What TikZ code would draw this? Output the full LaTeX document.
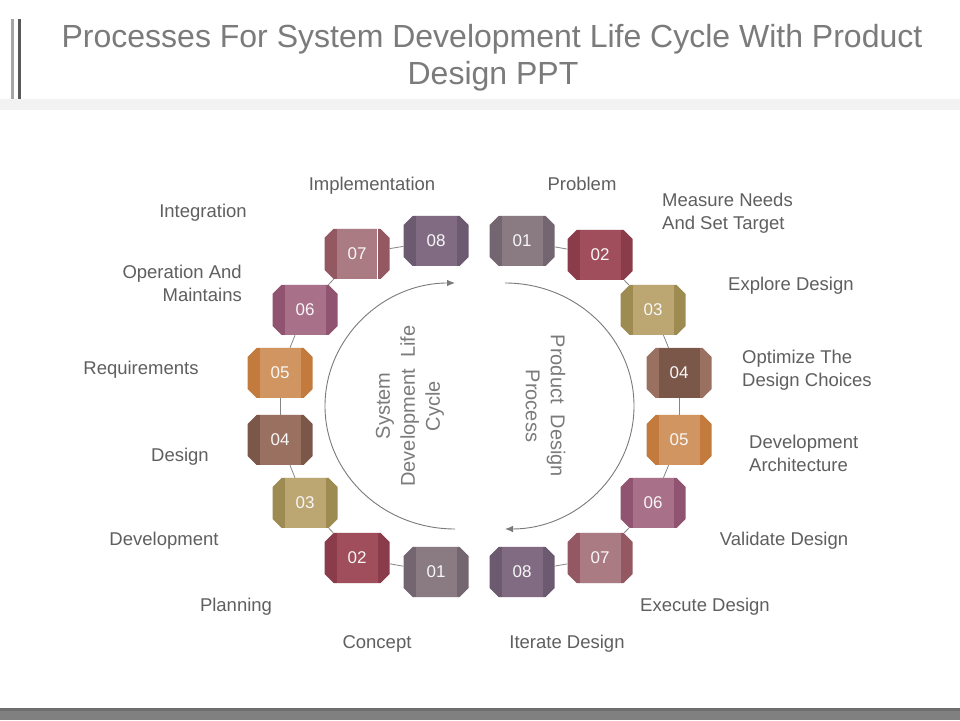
\documentclass[tikz,border=0pt]{standalone}
\usepackage{fontspec}
\setmainfont{Liberation Sans}
\usetikzlibrary{arrows.meta}
\definecolor{titlegray}{HTML}{7B7B7B}
\definecolor{labelgray}{HTML}{5F5F5F}
\definecolor{arcgray}{HTML}{7A7A7A}
\definecolor{conngray}{HTML}{858585}
\definecolor{bandgray}{HTML}{F2F2F2}
\definecolor{barlight}{HTML}{A6A6A6}
\definecolor{bardark}{HTML}{595959}
\definecolor{footdark}{HTML}{6E6E6E}
\definecolor{footgray}{HTML}{808080}
\definecolor{cAf}{HTML}{8A7B82}\definecolor{cAs}{HTML}{746670}
\definecolor{cBf}{HTML}{A04E5B}\definecolor{cBs}{HTML}{8A3C4A}
\definecolor{cCf}{HTML}{BCA671}\definecolor{cCs}{HTML}{9E8B51}
\definecolor{cDf}{HTML}{9A7061}\definecolor{cDs}{HTML}{7B5749}
\definecolor{cEf}{HTML}{D09560}\definecolor{cEs}{HTML}{C27B3C}
\definecolor{cFf}{HTML}{A9708A}\definecolor{cFs}{HTML}{905470}
\definecolor{cGf}{HTML}{AA7B83}\definecolor{cGs}{HTML}{945863}
\definecolor{cHf}{HTML}{816B82}\definecolor{cHs}{HTML}{6B5A70}
\newcommand\cubebox[6]{%
  \begin{scope}[shift={(#2,#3)}]
    \fill[#5] (-32.5,16) -- (-23.5,25) -- (23.5,25) -- (32.5,16) -- (32.5,-16) -- (23.5,-25) -- (-23.5,-25) -- (-32.5,-16) -- cycle;
    \fill[#4] (-20.5,-25) rectangle (20.5,25);
  \end{scope}
  \node[numbox] (#1) at (#2,#3) {#6};
}
\tikzset{
  numbox/.style={minimum width=65pt, minimum height=50pt, inner sep=0pt, text=white!94!gray, font=\fontsize{17}{20}\selectfont},
  lbl/.style={inner sep=0pt, text=labelgray, font=\fontsize{18.5}{23}\selectfont},
  conn/.style={draw=conngray, line width=0.8pt},
  cyc/.style={draw=arcgray, line width=0.9pt, -{Latex[length=8pt,width=6.5pt]}},
  midtext/.style={inner sep=0pt, text=titlegray, align=center, font=\fontsize{20}{25}\selectfont},
  ttl/.style={inner sep=0pt, text=titlegray, font=\fontsize{32}{37}\selectfont}
}
\begin{document}
\begin{tikzpicture}[x=1pt,y=1pt]
\useasboundingbox (0,0) rectangle (960,720);
\fill[white] (0,0) rectangle (960,720);
% header decoration
\fill[bandgray] (0,610) rectangle (960,621);
\fill[barlight] (11,621) rectangle (14,701);
\fill[bardark] (17.7,621) rectangle (20.7,701);
% footer
\fill[footgray] (0,0) rectangle (960,9);
\fill[footdark] (0,9) rectangle (960,12);
% title
\node[ttl, anchor=base] (title1) at (492,672.7) {Processes For System Development Life Cycle With Product};
\node[ttl, anchor=base] (title2) at (493,635) {Design PPT};
% left cycle boxes
\cubebox{L1}{436}{148}{cAf}{cAs}{01}
\cubebox{L2}{357}{162}{cBf}{cBs}{02}
\cubebox{L3}{305}{217}{cCf}{cCs}{03}
\cubebox{L4}{280}{280}{cDf}{cDs}{04}
\cubebox{L5}{280}{347}{cEf}{cEs}{05}
\cubebox{L6}{305}{410}{cFf}{cFs}{06}
\cubebox{L7}{357}{466}{cGf}{cGs}{07}
\cubebox{L8}{436}{479}{cHf}{cHs}{08}
\draw[white, line width=1pt] (377.5,441) -- (377.5,491);
% right cycle boxes
\cubebox{R1}{522}{479}{cAf}{cAs}{01}
\cubebox{R2}{600}{465}{cBf}{cBs}{02}
\cubebox{R3}{653}{410}{cCf}{cCs}{03}
\cubebox{R4}{679}{347}{cDs}{cDf}{04}
\cubebox{R5}{679}{280}{cEf}{cEs}{05}
\cubebox{R6}{653}{217}{cFf}{cFs}{06}
\cubebox{R7}{600}{162}{cGf}{cGs}{07}
\cubebox{R8}{522}{148}{cHf}{cHs}{08}
% connectors
\draw[conn] (L1) -- (L2);
\draw[conn] (L2) -- (L3);
\draw[conn] (L3) -- (L4);
\draw[conn] (L4) -- (L5);
\draw[conn] (L5) -- (L6);
\draw[conn] (L6) -- (L7);
\draw[conn] (L7) -- (L8);
\draw[conn] (R1) -- (R2);
\draw[conn] (R2) -- (R3);
\draw[conn] (R3) -- (R4);
\draw[conn] (R4) -- (R5);
\draw[conn] (R5) -- (R6);
\draw[conn] (R6) -- (R7);
\draw[conn] (R7) -- (R8);
% cycle arcs
\coordinate (lstart) at (455,191);
\coordinate (rstart) at (505,437);
\draw[cyc] (lstart) arc[start angle=270, end angle=90, x radius=130, y radius=123];
\draw[cyc] (rstart) arc[start angle=90, end angle=-90, x radius=129, y radius=123];
% center texts
\node[midtext, rotate=90] (sdlc) at (410,314) {System\\Development\ \ Life\\Cycle};
\node[midtext, rotate=-90] (pdp) at (545.5,314) {Product\ \ Design\\Process};
% left labels
\node[lbl, anchor=base] (impl) at (372,529) {Implementation};
\node[lbl, anchor=base] (integ) at (203,502) {Integration};
\node[lbl, align=right, anchor=east] (oper) at (242,436.3) {Operation And\\Maintains};
\node[lbl, anchor=base] (req) at (141,345) {Requirements};
\node[lbl, anchor=base] (des) at (180,258) {Design};
\node[lbl, anchor=base] (dev) at (164,174) {Development};
\node[lbl, anchor=base] (plan) at (236,109) {Planning};
\node[lbl, anchor=base] (conc) at (377,72) {Concept};
% right labels
\node[lbl, anchor=base] (prob) at (582,529) {Problem};
\node[lbl, align=left, anchor=west] (meas) at (662,506.3) {Measure Needs\\And Set Target};
\node[lbl, anchor=base west] (expl) at (728,429) {Explore Design};
\node[lbl, align=left, anchor=west] (opti) at (742,349.3) {Optimize The\\Design Choices};
\node[lbl, align=left, anchor=west] (arch) at (749,266.3) {Development\\Architecture};
\node[lbl, anchor=base] (vali) at (784,174) {Validate Design};
\node[lbl, anchor=base] (exec) at (705,109) {Execute Design};
\node[lbl, anchor=base] (iter) at (567,72) {Iterate Design};
\end{tikzpicture}
\end{document}
